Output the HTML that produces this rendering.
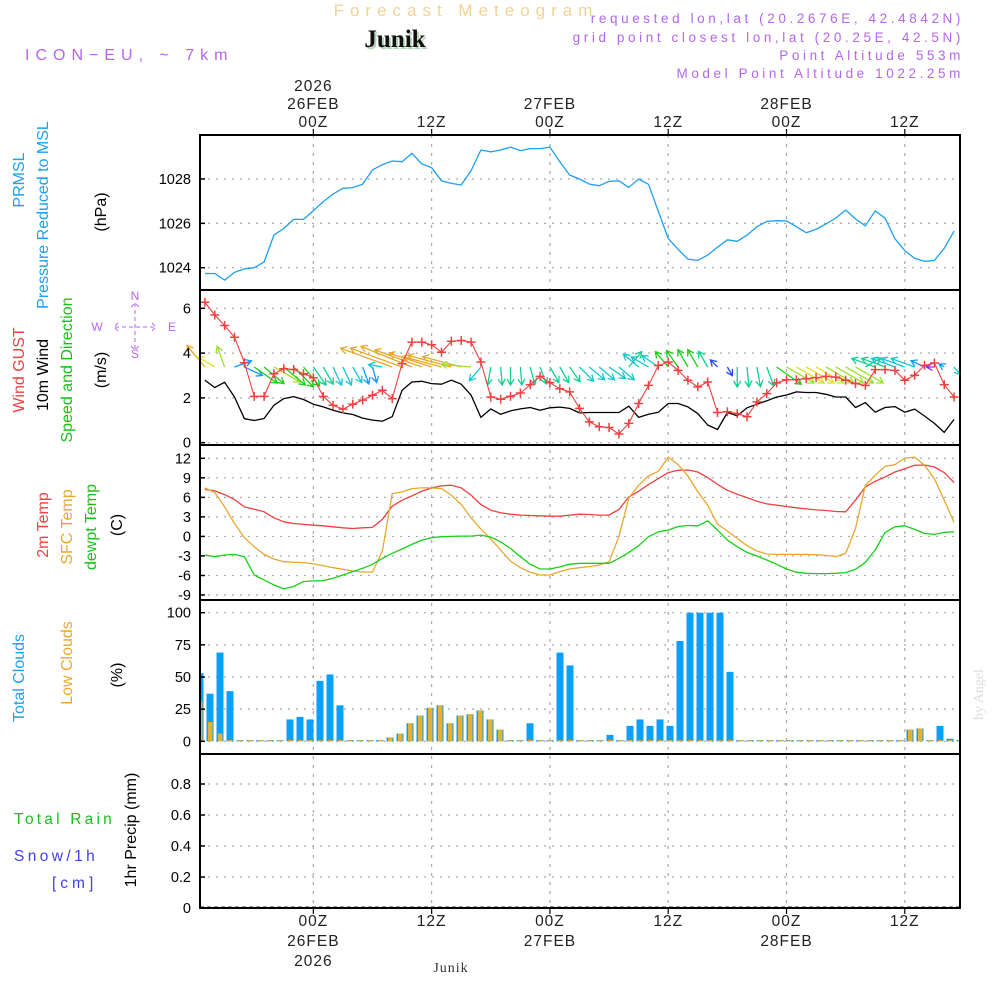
<!DOCTYPE html>
<html><head><meta charset="utf-8"><title>Forecast Meteogram Junik</title>
<style>
html,body{margin:0;padding:0;background:#fff;}
svg{display:block;font-family:"Liberation Sans",sans-serif;}
</style></head>
<body>
<svg id="chart" width="1000" height="1000" viewBox="0 0 1000 1000" xmlns="http://www.w3.org/2000/svg">
<rect width="1000" height="1000" fill="#fff"/>
<text x="466" y="16" text-anchor="middle" font-size="17" fill="#f3d394" letter-spacing="6">Forecast Meteogram</text>
<text x="397" y="49" text-anchor="middle" font-size="25" font-weight="bold" font-family="Liberation Serif,serif" fill="#b9d3b9">Junik</text>
<text x="395" y="47" text-anchor="middle" font-size="25" font-weight="bold" font-family="Liberation Serif,serif" fill="#111">Junik</text>
<text x="25" y="60" font-size="16" fill="#b466ee" letter-spacing="6">ICON−EU, ~ 7km</text>
<g font-size="13.5" fill="#b466ee" text-anchor="end" letter-spacing="3.6">
<text x="964" y="23">requested lon,lat (20.2676E, 42.4842N)</text>
<text x="964" y="42">grid point closest lon,lat (20.25E, 42.5N)</text>
<text x="964" y="60">Point Altitude 553m</text>
<text x="964" y="78">Model Point Altitude 1022.25m</text>
</g>
<g id="grid"></g>
<g id="marks"></g>
<g id="frame"></g>
<g id="labels"></g>
<text transform="translate(983,720) rotate(-90)" font-size="14" font-family="Liberation Serif,serif" fill="#dcdcdc">by Angel</text>
<text x="451" y="972" text-anchor="middle" font-size="14" font-family="Liberation Serif,serif" fill="#333" letter-spacing="1">Junik</text>
</svg>
<script>
// ---- data (hourly, hour relative to 26FEB 00Z) ----
const hourStart = -11;
const pressure = [1023.74,1023.74,1023.44,1023.79,1023.95,1024.0,1024.26,1025.47,1025.77,1026.18,1026.18,1026.57,1026.98,1027.32,1027.58,1027.61,1027.76,1028.41,1028.65,1028.81,1028.78,1029.16,1028.68,1028.51,1027.92,1027.80,1027.73,1028.38,1029.31,1029.22,1029.31,1029.44,1029.28,1029.37,1029.37,1029.44,1028.78,1028.18,1028.0,1027.77,1027.70,1027.89,1027.92,1027.62,1028.0,1027.76,1026.53,1025.32,1024.83,1024.39,1024.33,1024.57,1024.93,1025.26,1025.19,1025.47,1025.85,1026.09,1026.12,1026.11,1025.85,1025.58,1025.73,1025.97,1026.24,1026.60,1026.20,1025.89,1026.56,1026.23,1025.31,1024.77,1024.42,1024.29,1024.33,1024.87,1025.65];
const wind10m = [2.79,2.46,2.70,2.04,1.07,0.99,1.08,1.67,1.97,2.06,1.93,1.72,1.60,1.45,1.33,1.26,1.10,1.01,0.96,1.16,2.34,2.71,2.74,2.64,2.61,2.79,2.61,2.12,1.13,1.51,1.27,1.42,1.51,1.57,1.45,1.56,1.59,1.53,1.33,1.35,1.35,1.35,1.35,1.63,1.13,1.27,1.36,1.75,1.75,1.60,1.30,0.79,0.59,1.35,1.20,1.56,1.72,1.87,2.04,2.13,2.27,2.24,2.24,2.16,2.04,2.04,1.57,1.79,1.36,1.57,1.61,1.36,1.50,1.19,0.86,0.46,1.04];
const windGust = [6.27,5.70,5.23,4.71,3.57,2.07,2.07,3.08,3.30,3.27,3.08,2.90,2.07,1.67,1.50,1.72,1.90,2.12,2.34,1.97,3.53,4.49,4.49,4.37,4.04,4.53,4.56,4.49,3.60,2.04,1.94,2.07,2.22,2.59,2.96,2.68,2.41,2.27,1.53,0.93,0.71,0.68,0.39,0.86,1.75,2.56,3.45,3.60,3.23,2.79,2.49,2.71,1.35,1.38,1.30,1.16,1.82,2.19,2.67,2.81,2.81,2.86,2.90,2.96,2.93,2.79,2.64,2.56,3.26,3.26,3.23,2.79,3.01,3.45,3.56,2.59,2.04];
const windDir = [320,300,340,70,115,125,130,120,130,135,140,145,150,155,155,150,160,165,280,290,290,292,290,288,285,285,285,275,220,190,175,180,175,165,160,150,150,145,135,130,130,125,130,40,310,300,305,320,325,330,330,330,315,150,180,175,170,160,125,120,120,120,120,120,120,120,120,60,290,290,290,290,290,295,270,300,140];
const windLen = [28,20,22,18,20,28,26,30,28,28,25,22,20,20,20,18,18,16,14,55,55,55,50,45,40,45,40,30,18,18,18,18,18,18,18,18,18,18,20,20,20,20,20,20,20,20,20,20,20,20,20,18,10,10,20,20,20,20,30,32,32,32,32,32,32,32,32,18,25,25,25,25,25,15,8,6,10];
const windCat = [0,1,2,6,6,3,3,2,3,3,3,4,4,5,5,5,6,6,5,0,0,0,0,0,0,0,0,2,5,4,4,4,4,4,4,4,4,4,5,5,5,5,5,4,5,5,5,3,3,3,3,4,7,7,4,4,4,4,3,2,1,1,1,2,2,2,2,4,4,4,5,5,5,6,8,6,5];
const temp2m = [7.24,6.99,6.43,5.66,4.54,4.18,3.78,2.86,2.24,1.99,1.84,1.73,1.63,1.48,1.33,1.22,1.33,1.38,2.65,4.64,5.56,6.22,6.94,7.45,7.76,7.86,7.45,6.33,4.90,4.03,3.62,3.42,3.27,3.21,3.16,3.11,3.11,3.27,3.42,3.37,3.27,3.27,4.13,6.07,6.94,7.96,8.88,9.80,10.15,10.20,9.90,9.03,8.01,7.09,6.48,5.97,5.41,5.00,4.80,4.59,4.39,4.23,4.08,3.98,3.83,3.78,5.56,7.60,8.47,9.13,9.90,10.41,10.92,10.97,10.66,9.80,8.27];
const tempSfc = [7.45,6.73,4.54,1.99,-0.20,-1.58,-2.76,-3.47,-3.88,-3.98,-4.03,-4.23,-4.49,-4.80,-5.05,-5.31,-5.46,-5.46,-2.24,6.58,6.84,7.35,7.45,7.45,7.35,6.33,4.90,2.86,1.12,-0.41,-2.09,-3.78,-4.80,-5.51,-5.92,-5.92,-5.41,-5.0,-4.80,-4.64,-4.39,-3.88,-0.05,5.92,7.86,9.29,10.0,12.19,11.02,9.29,6.84,4.80,1.89,0.82,-0.31,-1.43,-2.24,-2.70,-2.76,-2.76,-2.76,-2.76,-2.81,-2.91,-3.11,-2.60,1.22,7.86,9.39,10.77,11.02,12.04,12.19,10.92,8.88,5.56,2.14];
const dewpt = [-2.86,-3.11,-2.86,-2.76,-3.11,-5.92,-6.68,-7.45,-8.06,-7.70,-6.94,-6.84,-6.79,-6.43,-5.92,-5.41,-4.90,-4.29,-3.37,-2.60,-1.94,-1.22,-0.56,-0.20,-0.05,0,0.05,0.05,0.20,-0.10,-0.82,-1.84,-3.11,-4.29,-5.0,-5.0,-4.69,-4.29,-4.13,-4.13,-4.13,-4.13,-3.37,-2.45,-1.43,-0.05,0.71,0.97,1.53,1.68,1.63,2.40,0.97,-0.56,-1.58,-2.45,-3.01,-3.62,-4.29,-5.0,-5.51,-5.66,-5.71,-5.71,-5.66,-5.56,-5.05,-3.98,-2.09,0.61,1.48,1.63,1.07,0.46,0.31,0.61,0.71];
const totalClouds = [53,37,69,39,0,0,0,0,0,17,19,17,47,52,28,0,0,0,1,3,6,14,20,26,28,14,20,21,24,17,9,0,0,14,0,0,69,59,0,0,0,5,0,12,17,12,17,12,78,100,100,100,100,54,0,0,0,0,0,0,0,0,0,0,0,0,0,0,0,0,0,9,10,0,12,2,1,1];
const lowClouds = [31,15,6,0,0,0,0,0,0,0,0,0,0,0,0,0,0,0,1,3,6,14,20,26,28,14,20,21,24,17,9,0,0,0,0,0,0,0,0,0,0,0,0,0,0,0,0,0,0,0,0,0,0,0,0,0,0,0,0,0,0,0,0,0,0,0,0,0,0,0,0,9,10,0,0,0,0,0];
const pTicks = [1024,1026,1028];
const wTicks = [0,2,4,6];
const tTicks = [-9,-6,-3,0,3,6,9,12];
const cTicks = [0,25,50,75,100];
const rTicks = [0,0.2,0.4,0.6,0.8];
const timeTicks = [0,12,24,36,48,60];
const timeTopLabels = [["2026","26FEB","00Z"],["12Z"],["27FEB","00Z"],["12Z"],["28FEB","00Z"],["12Z"]];
const timeBotLabels = [["00Z","26FEB","2026"],["12Z"],["00Z","27FEB"],["12Z"],["00Z","28FEB"],["12Z"]];

// ---- scales ----
const X0=200, X1=960, H0=-11.5, H1=65.6;
const xs = h => X0 + (h-H0)*(X1-X0)/(H1-H0);
function lin(d0,d1,r0,r1){return v => r0 + (v-d0)*(r1-r0)/(d1-d0);}
const xBar = lin(0,77,200,970);
const panels = {
  p:{top:135,bot:290,y:lin(1024,1028,267.7,179)},
  w:{top:290,bot:445,y:lin(0,6,442.7,308.3)},
  t:{top:445,bot:600,y:lin(-9,12,595,458.3)},
  c:{top:600,bot:754,y:lin(0,100,741.3,612.7)},
  r:{top:754,bot:908,y:lin(0,0.8,908,784)}
};
const NS="http://www.w3.org/2000/svg";
function mk(tag,attrs,parent){const e=document.createElementNS(NS,tag);for(const k in attrs)e.setAttribute(k,attrs[k]);parent.appendChild(e);return e;}
const G=document.getElementById('grid'), M=document.getElementById('marks'), F=document.getElementById('frame'), L=document.getElementById('labels');

function hgrid(panel,ticks,fmt,name){
  const P=panels[panel];
  ticks.forEach(v=>{
    const y=P.y(v);
    const g=mk('line',{x1:X0,x2:X1,y1:y,y2:y,stroke:'#aaa','stroke-width':1.2,'stroke-dasharray':'2,6'},G);
    
    
    const tk=mk('line',{x1:X0,x2:X0+5,y1:y,y2:y,stroke:'#000','stroke-width':1.5},F);
    
    
    const t=mk('text',{x:191,y:y+5,'text-anchor':'end','font-size':14.5,fill:'#000'},L);
    t.textContent=fmt(v);
    
    
  });
}
hgrid('p',pTicks,v=>v,'pressure');
hgrid('w',wTicks,v=>v,'wind');
hgrid('t',tTicks,v=>v,'temp');
hgrid('c',cTicks,v=>v,'cloud');
hgrid('r',rTicks,v=>v===0?'0':v.toFixed(1),'precip');
timeTicks.forEach((h,i)=>{
  const x=xs(h);
  const g=mk('line',{x1:x,x2:x,y1:135,y2:908,stroke:'#aaa','stroke-width':1.2,'stroke-dasharray':'3,6'},G);
  
  
  [135,908].forEach(yy=>{
    const tk=mk('line',{x1:x,x2:x,y1:yy,y2:yy===135?129:914,stroke:'#000','stroke-width':1.2},F);
    
    
  });
  const top=timeTopLabels[i];
  top.forEach((s,j)=>{
    const t=mk('text',{x:x,y:127-(top.length-1-j)*18,'text-anchor':'middle','font-size':15.5,fill:'#222','letter-spacing':1},L);
    t.textContent=s;
    
    
  });
  timeBotLabels[i].forEach((s,j)=>{
    const t=mk('text',{x:x,y:926+j*20,'text-anchor':'middle','font-size':15.5,fill:'#222','letter-spacing':1},L);
    t.textContent=s;
    
    
  });
});

function line(arr,panel,color,name,w){
  const P=panels[panel];
  const d=arr.map((v,i)=>(i?'L':'M')+xs(hourStart+i).toFixed(1)+','+P.y(v).toFixed(1)).join('');
  const p=mk('path',{d:d,fill:'none',stroke:color,'stroke-width':w||1.3,'stroke-linejoin':'round'},M);
  
  
  return p;
}
line(pressure,'p','#1ea0f0','pressure-line');
line(wind10m,'w','#000','wind-10m-line');
const arrowColors=['#e8a828','#e0e020','#9be028','#18d018','#10d090','#10c8d0','#1898ff','#2848ff','#8c28ff'];
const baseY=panels.w.y(3.38);
windDir.forEach((dir,i)=>{
  const x=xs(hourStart+i), a=dir*Math.PI/180, L2=windLen[i];
  const x2=x+Math.sin(a)*L2, y2=baseY-Math.cos(a)*L2;
  const c=arrowColors[windCat[i]];
  const hx=Math.sin(a), hy=-Math.cos(a);
  const h1x=x2-hx*6+hy*3.5, h1y=y2-hy*6-hx*3.5, h2x=x2-hx*6-hy*3.5, h2y=y2-hy*6+hx*3.5;
  const p=mk('path',{d:`M${x},${baseY}L${x2},${y2}M${h1x},${h1y}L${x2},${y2}L${h2x},${h2y}`,stroke:c,'stroke-width':1.3,fill:'none'},M);
  
  
});
line(windGust,'w','#f04040','wind-gust-line',1.1);
windGust.forEach((v,i)=>{
  const x=xs(hourStart+i), y=panels.w.y(v);
  const p=mk('path',{d:`M${x-4.5},${y}h9M${x},${y-4.5}v9`,stroke:'#f04040','stroke-width':1.5},M);
  
  
});
line(temp2m,'t','#f04040','temp-2m-line');
line(tempSfc,'t','#e8a830','temp-sfc-line');
line(dewpt,'t','#18d018','dewpoint-line');
const C=panels.c, y0=C.y(0);
const bg=mk('g',{'clip-path':'url(#plotclip)'},M);
const cp=mk('clipPath',{id:'plotclip'},M);
mk('rect',{x:X0,y:0,width:X1-X0,height:1000},cp);
totalClouds.forEach((v,i)=>{
  const x=xBar(i);
  const h=Math.max(y0-C.y(v),1.2);
  const r=mk('rect',{x:x-3.5,y:y0-h,width:7,height:h,fill:'#08a0f8'},bg);
  
  
  const lv=lowClouds[i];
  const lh=Math.max(y0-C.y(lv),1.2);
  const r2=mk('rect',{x:x-2,y:y0-lh,width:4.5,height:lh,fill:'#e8b030'},bg);
  
  
});
const pb=mk('line',{x1:X0,x2:X1,y1:907,y2:907,stroke:'#333','stroke-width':1,'stroke-dasharray':'4,3'},M);



Object.keys(panels).forEach(k=>{
  const P=panels[k];
  const r=mk('rect',{x:X0,y:P.top,width:X1-X0,height:P.bot-P.top,fill:'none',stroke:'#000','stroke-width':2},F);
  
  
});

function vlabel(x,cy,txt,color,name,size){
  const t=mk('text',{transform:`translate(${x},${cy}) rotate(-90)`,'text-anchor':'middle','font-size':size||16,fill:color},L);
  t.textContent=txt;
  
  
}
vlabel(24,180,'PRMSL','#1ea0f0','pressure-label-1');
vlabel(48,215,'Pressure Reduced to MSL','#1ea0f0','pressure-label-2');
vlabel(106,212,'(hPa)','#000','pressure-unit');
vlabel(24,370,'Wind GUST','#f04040','gust-label');
vlabel(48,375,'10m Wind','#000','wind-10m-label');
vlabel(72,370,'Speed and Direction','#18c018','wind-direction-label');
vlabel(106,370,'(m/s)','#000','wind-unit');
vlabel(48,525,'2m Temp','#f04040','temp-2m-label');
vlabel(72,527,'SFC Temp','#e8a830','temp-sfc-label');
vlabel(96,527,'dewpt Temp','#18c018','dewpoint-label');
vlabel(122,525,'(C)','#000','temp-unit');
vlabel(24,678,'Total Clouds','#1ea0f0','total-cloud-label');
vlabel(72,663,'Low Clouds','#e8a830','low-cloud-label');
vlabel(122,675,'(%)','#000','cloud-unit');
vlabel(136,830,'1hr Precip (mm)','#000','precip-unit');
[['Total  Rain',14,824,'#18c018','rain-label',3.2],['Snow/1h',14,861,'#4040f0','snow-label',3.4],['[cm]',52,888,'#4040f0','snow-unit',4]].forEach(a=>{
  const t=mk('text',{x:a[1],y:a[2],'font-size':15.5,fill:a[3],'letter-spacing':a[5],'xml:space':'preserve'},L);
  t.textContent=a[0];
  
  
});
const cg=mk('g',{fill:'#b466ee','font-size':12,'text-anchor':'middle'},L);


[['N',135,300],['W',97,331],['E',172,331],['S',135,358]].forEach(a=>{const t=mk('text',{x:a[1],y:a[2]},cg);t.textContent=a[0];});
mk('path',{d:'M135,303v48M115,327h40M118,323l-4,4l4,4M152,323l4,4l-4,4M131,307l4,-4l4,4M131,346l4,4l4,-4',stroke:'#b466ee','stroke-width':1,fill:'none','stroke-dasharray':'4,3'},cg);
</script>
</body></html>
